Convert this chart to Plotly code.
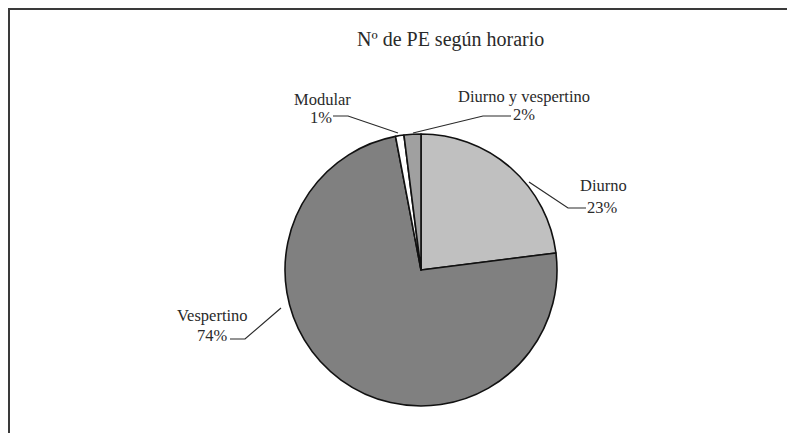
import plotly.graph_objects as go

# ---- data ----
categories = ["Diurno", "Vespertino", "Modular", "Diurno y vespertino"]
values = [23, 74, 1, 2]
slice_colors = ["#c0c0c0", "#808080", "#ffffff", "#a0a0a0"]
chart_title = "Nº de PE según horario"

W, H = 795, 433
OFF = 8  # page body offset of the plot div
total = sum(values)
pct_labels = [f"{round(v / total * 100)}%" for v in values]

# label layout (screen pixel positions): name line, pct line, leader polyline
label_layout = {
    "Diurno": dict(name=(603, 185), pct=(602, 207),
                   line=[(586, 208), (568, 208), (529, 182)]),
    "Vespertino": dict(name=(212, 315), pct=(212, 335),
                       line=[(230, 339), (245, 339), (281, 308)]),
    "Modular": dict(name=(322, 99), pct=(321, 117),
                    line=[(333, 116), (348, 116), (398, 133)]),
    "Diurno y vespertino": dict(name=(524, 96), pct=(524, 114),
                                line=[(511, 116), (483, 116), (413, 133)]),
}


def px(x):
    return (x - OFF) / W


def py(y):
    return 1 - (y - OFF) / H


fig = go.Figure()
fig.add_trace(go.Pie(
    labels=categories,
    values=values,
    sort=False,
    direction="clockwise",
    rotation=0,
    textinfo="none",
    marker=dict(colors=slice_colors, line=dict(color="#111111", width=1.6)),
    domain=dict(x=[px(285), px(557)], y=[py(406), py(134)]),
    showlegend=False,
    hoverinfo="label+percent",
))

label_font = dict(family="Liberation Serif, Times New Roman, serif", size=16.5, color="#2a2a2a")
annotations = []
shapes = []
for cat, pct in zip(categories, pct_labels):
    lay = label_layout[cat]
    annotations.append(dict(text=cat, x=px(lay["name"][0]), y=py(lay["name"][1]),
                            xref="paper", yref="paper", xanchor="center", yanchor="middle",
                            showarrow=False, font=label_font))
    annotations.append(dict(text=pct, x=px(lay["pct"][0]), y=py(lay["pct"][1]),
                            xref="paper", yref="paper", xanchor="center", yanchor="middle",
                            showarrow=False, font=label_font))
    pts = lay["line"]
    path = "M " + " L ".join(f"{px(x)},{py(y)}" for x, y in pts)
    shapes.append(dict(type="path", path=path, xref="paper", yref="paper",
                       line=dict(color="#2a2a2a", width=1.2)))

annotations.append(dict(text=chart_title, x=px(450), y=py(40), xref="paper", yref="paper",
                        xanchor="center", yanchor="middle", showarrow=False,
                        font=dict(family="Liberation Serif, Times New Roman, serif", size=20,
                                  color="#2a2a2a")))

# frame lines (top and left)
shapes.append(dict(type="line", xref="paper", yref="paper", x0=0.0, y0=py(9), x1=1.0, y1=py(9),
                   line=dict(color="#3a3a3a", width=2)))
shapes.append(dict(type="line", xref="paper", yref="paper", x0=px(9), y0=1.0, x1=px(9), y1=0.0,
                   line=dict(color="#3a3a3a", width=2)))

fig.update_layout(
    width=W, height=H,
    margin=dict(l=0, r=0, t=0, b=0),
    paper_bgcolor="white",
    plot_bgcolor="white",
    annotations=annotations,
    shapes=shapes,
)

fig.write_html("out.html")
